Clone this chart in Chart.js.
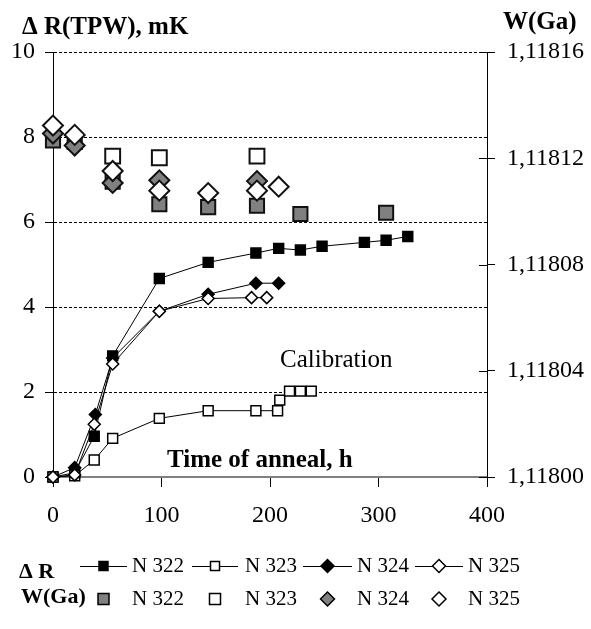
<!DOCTYPE html>
<html><head><meta charset="utf-8">
<script src="https://cdn.jsdelivr.net/npm/chart.js@4"></script>
<style>html,body{margin:0;padding:0;background:#fff}</style>
</head><body>
<canvas id="c" width="591" height="629"></canvas>
<script>
// ---- data ----
const TIME_TICKS = [0, 100, 200, 300, 400];
const DR_TICKS = [0, 2, 4, 6, 8, 10];
const W_TICKS = [1.118, 1.11804, 1.11808, 1.11812, 1.11816];
const SERIES_NAMES = ['N 322', 'N 323', 'N 324', 'N 325'];

// Delta R (TPW), mK vs time of anneal, h
const DR322_T = [0, 20, 38, 55, 98, 143, 187, 208, 228, 248, 287, 307, 327];
const DR322_V = [0, 0.1, 0.96, 2.85, 4.67, 5.05, 5.27, 5.38, 5.34, 5.43, 5.52, 5.57, 5.66];
const DR323_T = [0, 20, 38, 55, 98, 143, 187, 207, 209, 218, 228, 238];
const DR323_V = [0, 0.03, 0.4, 0.91, 1.38, 1.56, 1.56, 1.56, 1.81, 2.02, 2.02, 2.02];
const DR324_T = [0, 20, 39, 55, 98, 143, 187, 208];
const DR324_V = [0, 0.22, 1.47, 2.8, 3.9, 4.3, 4.56, 4.56];
const DR325_T = [0, 20, 38, 55, 98, 143, 183, 197];
const DR325_V = [0, 0.05, 1.24, 2.66, 3.9, 4.2, 4.22, 4.22];

// W(Ga) vs time of anneal, h
const W322_T = [0, 20, 55, 98, 143, 188, 228, 307];
const W322_V = [1.1181267, 1.1181261, 1.1181112, 1.1181027, 1.1181016, 1.1181021, 1.1180990, 1.1180995];
const W323_T = [55, 98, 188];
const W323_V = [1.1181208, 1.1181202, 1.1181208];
const W324_T = [0, 20, 55, 98, 188];
const W324_V = [1.1181293, 1.1181248, 1.1181107, 1.1181117, 1.1181114];
const W325_T = [0, 20, 55, 98, 143, 188, 208];
const W325_V = [1.1181323, 1.1181288, 1.1181152, 1.1181078, 1.1181069, 1.1181078, 1.1181093];

const pts = (t, v) => t.map((x, i) => ({x: x, y: v[i]}));
const SERIF = '"Liberation Serif", "Times New Roman", serif';
const GRAY = '#808080';

function drLine(t, v, style, r, fill, order) {
  return {data: pts(t, v), yAxisID: 'y', showLine: true, borderColor: '#000', borderWidth: 1,
    pointStyle: style, pointRadius: r, pointHoverRadius: r, pointBackgroundColor: fill,
    pointBorderColor: '#000', pointBorderWidth: 1.5, tension: 0, clip: false, order: order};
}
function wPts(t, v, style, r, fill, order) {
  return {data: pts(t, v), yAxisID: 'y2', showLine: false,
    pointStyle: style, pointRadius: r, pointHoverRadius: r, pointBackgroundColor: fill,
    pointBorderColor: '#111', pointBorderWidth: 2, clip: false, order: order};
}

const decor = {
  id: 'decor',
  afterDraw(chart) {
    const ctx = chart.ctx;
    const y2 = chart.scales.y2;
    ctx.save();
    // inner half of right-axis cross ticks
    ctx.strokeStyle = '#000'; ctx.lineWidth = 1;
    W_TICKS.forEach(v => {
      const py = Math.round(y2.getPixelForValue(v)) + 0.5;
      ctx.beginPath(); ctx.moveTo(y2.left - 8, py); ctx.lineTo(y2.left, py); ctx.stroke();
    });
    ctx.fillStyle = '#000';
    ctx.textBaseline = 'middle';
    ctx.font = 'bold 25px ' + SERIF;
    ctx.fillText('\u0394 R(TPW), mK', 22, 28);
    ctx.fillText('W(Ga)', 503, 23);
    ctx.fillText('Time of anneal, h', 167, 461);
    ctx.font = '25px ' + SERIF;
    ctx.fillText('Calibration', 280, 360);

    // legend
    const xsLine = [[80, 127], [192, 238], [303, 352], [415, 463]];
    const xsText = [132, 245, 357, 468];
    const r1 = 566, r2 = 599;
    ctx.font = 'bold 22px ' + SERIF;
    ctx.fillText('\u0394 R', 19, r1 + 6);
    ctx.fillText('W(Ga)', 21, r2 - 2);
    ctx.font = '21px ' + SERIF;
    const drawSq = (cx, cy, s, fill, lw) => {
      ctx.fillStyle = fill; ctx.fillRect(cx - s / 2, cy - s / 2, s, s);
      ctx.lineWidth = lw; ctx.strokeStyle = '#000'; ctx.strokeRect(cx - s / 2, cy - s / 2, s, s);
    };
    const drawDia = (cx, cy, r, fill, lw) => {
      ctx.beginPath(); ctx.moveTo(cx, cy - r); ctx.lineTo(cx + r, cy); ctx.lineTo(cx, cy + r); ctx.lineTo(cx - r, cy); ctx.closePath();
      ctx.fillStyle = fill; ctx.fill(); ctx.lineWidth = lw; ctx.strokeStyle = '#000'; ctx.stroke();
    };
    const rowStyles1 = [['sq', '#000'], ['sq', '#fff'], ['dia', '#000'], ['dia', '#fff']];
    const rowStyles2 = [['sq', GRAY], ['sq', '#fff'], ['dia', GRAY], ['dia', '#fff']];
    for (let i = 0; i < 4; i++) {
      const [a, b] = xsLine[i];
      ctx.strokeStyle = '#000'; ctx.lineWidth = 1;
      ctx.beginPath(); ctx.moveTo(a, r1 + 0.5); ctx.lineTo(b, r1 + 0.5); ctx.stroke();
      const cx = (a + b) / 2;
      if (rowStyles1[i][0] === 'sq') drawSq(cx, r1, 9, rowStyles1[i][1], 1.5);
      else drawDia(cx, r1, 6.5, rowStyles1[i][1], 1.5);
      if (rowStyles2[i][0] === 'sq') drawSq(cx, r2, 11, rowStyles2[i][1], 1.5);
      else drawDia(cx, r2, 7, rowStyles2[i][1], 1.5);
      ctx.fillStyle = '#000';
      ctx.fillText(SERIES_NAMES[i], xsText[i], r1);
      ctx.fillText(SERIES_NAMES[i], xsText[i], r2);
    }
    ctx.restore();
  }
};

new Chart(document.getElementById('c'), {
  type: 'scatter',
  data: {
    datasets: [
      drLine(DR322_T, DR322_V, 'rect', 7, '#000', 4),
      drLine(DR323_T, DR323_V, 'rect', 7, '#fff', 3),
      drLine(DR324_T, DR324_V, 'rectRot', 6, '#000', 2),
      drLine(DR325_T, DR325_V, 'rectRot', 6, '#fff', 1),
      wPts(W322_T, W322_V, 'rect', 10, GRAY, 8),
      wPts(W323_T, W323_V, 'rect', 10.5, '#fff', 7),
      wPts(W324_T, W324_V, 'rectRot', 10, GRAY, 6),
      wPts(W325_T, W325_V, 'rectRot', 10, '#fff', 5)
    ]
  },
  options: {
    responsive: false,
    animation: false,
    events: [],
    layout: {padding: {top: 52, left: 0, right: 0, bottom: 0}},
    plugins: {legend: {display: false}, tooltip: {enabled: false}},
    scales: {
      x: {
        type: 'linear', min: 0, max: 400,
        afterBuildTicks: s => { s.ticks = TIME_TICKS.map(v => ({value: v})); },
        afterFit: s => { s.height = 152; },
        grid: {drawOnChartArea: false, tickLength: 10, tickColor: '#000', tickWidth: 1},
        border: {color: GRAY, width: 2},
        ticks: {color: '#000', font: {family: SERIF, size: 24}, padding: 14, maxRotation: 0}
      },
      y: {
        type: 'linear', position: 'left', min: 0, max: 10,
        afterBuildTicks: s => { s.ticks = DR_TICKS.map(v => ({value: v})); },
        afterFit: s => { s.width = 53; },
        grid: {
          color: c => (c.tick && c.tick.value === 0) ? 'rgba(0,0,0,0)' : '#000',
          tickColor: '#000', tickLength: 8, tickWidth: 1, tickBorderDash: [], lineWidth: 1
        },
        border: {color: '#000', width: 1, dash: [3, 2]},
        ticks: {color: '#000', font: {family: SERIF, size: 24}, padding: 10}
      },
      y2: {
        type: 'linear', position: 'right', min: 1.118, max: 1.11816,
        afterBuildTicks: s => { s.ticks = W_TICKS.map(v => ({value: v})); },
        afterFit: s => { s.width = 104; },
        grid: {drawOnChartArea: false, tickLength: 8, tickColor: '#000', tickWidth: 1},
        border: {color: '#000', width: 1},
        ticks: {color: '#000', font: {family: SERIF, size: 24}, padding: 12,
          callback: v => Number(v).toFixed(5).replace('.', ',')}
      }
    }
  },
  plugins: [decor]
});
</script>
</body></html>
